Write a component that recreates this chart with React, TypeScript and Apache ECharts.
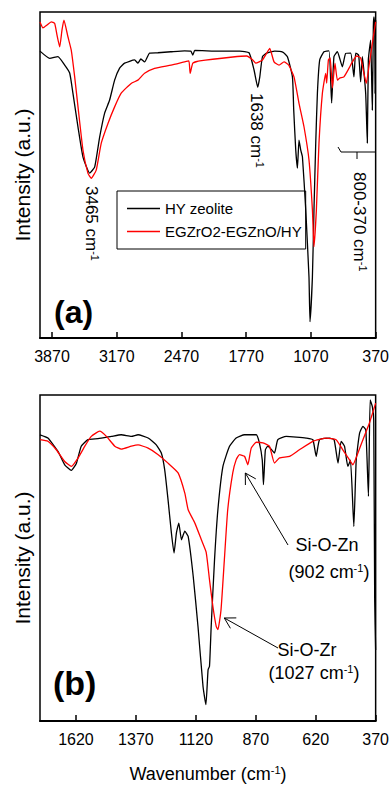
import React, { useEffect, useRef } from "react";
import * as echarts from "echarts";

const FONT = "'Liberation Sans', Arial, sans-serif";

const ticksA = [3870, 3170, 2470, 1770, 1070, 370];
const ticksB = [1620, 1370, 1120, 870, 620, 370];
const legendNames = ["HY zeolite", "EGZrO2-EGZnO/HY"];

// Panel (a): [wavenumber, relative transmittance]
const hyA: [number, number][] = [
  [4000, 88.0], [3895, 85.8], [3806, 86.3], [3733, 83.7], [3679, 81.3], [3644, 75.1],
  [3589, 64.7], [3535, 55.5], [3463, 50.6], [3409, 52.4], [3355, 61.6], [3301, 69.0],
  [3247, 73.0], [3193, 79.1], [3139, 82.8], [3085, 84.3], [2977, 85.3], [2941, 84.3],
  [2909, 85.6], [2869, 84.7], [2815, 87.4], [2725, 87.5], [2585, 87.8], [2437, 88.1],
  [2369, 88.0], [2347, 86.8], [2326, 88.2], [2055, 88.0], [1839, 88.0], [1739, 87.5],
  [1685, 82.2], [1645, 76.9], [1623, 80.1], [1594, 86.3], [1548, 87.4], [1461, 88.0],
  [1375, 87.7], [1324, 86.3], [1270, 80.1], [1256, 69.9], [1234, 57.6], [1216, 52.1],
  [1199, 60.7], [1180, 57.6], [1162, 55.6], [1126, 39.3], [1091, 18.7], [1080, 5.0],
  [1054, 18.7], [1037, 39.3], [1018, 59.8], [1000, 75.1], [975, 85.3], [929, 87.8],
  [875, 88.1], [846, 72.1], [821, 86.3], [784, 87.8], [730, 83.2], [694, 87.3],
  [640, 87.4], [605, 80.1], [586, 87.4], [554, 86.8], [532, 78.6], [514, 86.3],
  [478, 75.1], [460, 59.8], [449, 85.3], [424, 91.4], [406, 69.9], [395, 95.5],
  [389, 98.5], [380, 96.0], [376, 75.0], [372, 95.0], [370, 97.5],
];

const znA: [number, number][] = [
  [4000, 96.9], [3968, 95.1], [3924, 96.0], [3878, 97.0], [3841, 96.5], [3816, 92.9],
  [3787, 89.3], [3762, 94.5], [3741, 97.5], [3698, 92.4], [3662, 88.3], [3625, 80.1],
  [3589, 70.9], [3535, 57.6], [3481, 50.5], [3446, 49.0], [3392, 51.5], [3338, 59.7],
  [3265, 65.8], [3193, 70.9], [3122, 75.1], [3014, 78.1], [2941, 79.1], [2869, 81.2],
  [2761, 82.7], [2582, 83.7], [2437, 84.7], [2390, 85.0], [2376, 81.2], [2347, 84.3],
  [2272, 85.0], [1915, 86.2], [1764, 86.5], [1699, 85.3], [1667, 84.3], [1594, 85.3],
  [1540, 87.8], [1515, 88.8], [1469, 84.7], [1415, 83.7], [1361, 84.7], [1310, 83.7],
  [1253, 80.1], [1199, 72.0], [1145, 64.8], [1091, 54.6], [1054, 39.3], [1037, 28.0],
  [1011, 39.3], [983, 59.7], [946, 75.1], [910, 81.2], [900, 78.2], [881, 85.3],
  [862, 85.9], [838, 76.7], [810, 84.3], [784, 79.1], [759, 79.7], [713, 80.1],
  [659, 82.7], [622, 84.7], [575, 86.5], [532, 85.9], [497, 81.2], [471, 78.1],
  [443, 83.2], [406, 90.4], [370, 97.0],
];

// Panel (b)
const hyB: [number, number][] = [
  [1770, 87.8], [1737, 86.8], [1695, 82.7], [1667, 78.6], [1639, 76.9], [1618, 79.1],
  [1598, 84.3], [1570, 86.3], [1528, 86.6], [1472, 87.3], [1431, 87.8], [1389, 87.3],
  [1361, 87.8], [1319, 86.8], [1285, 84.7], [1264, 82.2], [1250, 77.1], [1236, 67.9],
  [1222, 57.7], [1211, 51.5], [1201, 57.7], [1191, 60.7], [1180, 55.6], [1166, 58.2],
  [1152, 56.6], [1131, 44.4], [1111, 29.0], [1090, 10.6], [1078, 5.0], [1069, 15.7],
  [1063, 16.8], [1056, 29.0], [1042, 49.5], [1028, 64.8], [1007, 78.1], [980, 84.2],
  [952, 86.8], [917, 87.8], [868, 87.8], [855, 85.3], [843, 80.1], [838, 72.5],
  [830, 83.2], [820, 84.3], [806, 83.4], [792, 82.2], [778, 86.3], [743, 87.3],
  [701, 87.1], [660, 86.8], [632, 86.3], [618, 81.2], [604, 86.3], [562, 86.8],
  [543, 86.2], [527, 79.1], [514, 85.8], [500, 84.3], [486, 78.1], [475, 80.0],
  [461, 59.7], [451, 80.1], [437, 88.3], [423, 90.4], [411, 89.2], [400, 68.9],
  [393, 98.5], [384, 96.5], [378, 92.3], [374, 37.1], [370, 21.8],
];

const znB: [number, number][] = [
  [1770, 86.3], [1737, 85.8], [1702, 83.2], [1667, 79.6], [1639, 78.1], [1611, 80.7],
  [1583, 84.3], [1556, 87.3], [1521, 88.9], [1493, 87.3], [1458, 84.3], [1431, 83.4],
  [1389, 84.3], [1361, 84.7], [1319, 83.7], [1277, 81.7], [1236, 79.1], [1194, 76.1],
  [1166, 69.9], [1152, 64.8], [1124, 60.7], [1097, 55.6], [1077, 51.8], [1063, 43.3],
  [1049, 35.2], [1035, 29.0], [1028, 28.0], [1015, 34.1], [1001, 49.5], [987, 64.8],
  [966, 76.1], [952, 80.1], [938, 81.7], [917, 81.2], [903, 78.6], [889, 83.7],
  [868, 85.5], [840, 85.3], [813, 84.3], [792, 79.1], [771, 80.7], [729, 81.2],
  [688, 83.2], [632, 85.8], [576, 86.8], [535, 86.3], [507, 83.2], [479, 80.1],
  [465, 78.6], [444, 82.2], [423, 86.3], [396, 91.4], [370, 97.5],
];

const supText = (main: string, tail = "") =>
  `{n|${main}}{s|-1}` + (tail ? `{n|${tail}}` : "");

const rich = (size: number) => ({
  n: { fontSize: size, fontFamily: FONT, fill: "#000", lineHeight: size + 2 },
  s: { fontSize: Math.round(size * 0.62), fontFamily: FONT, fill: "#000", verticalAlign: "top", lineHeight: size + 2 },
});

export default function App() {
  const ref = useRef<HTMLDivElement>(null);

  useEffect(() => {
    document.body.style.margin = "0";
    if (!ref.current) return;
    const chart = echarts.init(ref.current, undefined, { renderer: "svg" });

    const xAxisCommon = (ticks: number[]) => ({
      type: "value" as const,
      inverse: true,
      axisLine: { show: true, onZero: false, lineStyle: { color: "#000", width: 2 } },
      axisTick: { show: true, inside: true, length: 6, customValues: ticks, lineStyle: { color: "#000", width: 1.5 } },
      axisLabel: {
        show: true,
        customValues: ticks,
        fontSize: 16,
        color: "#000",
        margin: 10,
        fontFamily: FONT,
        formatter: (v: number) => String(v),
      },
      splitLine: { show: false },
    });

    const lineSeries = (name: string, data: [number, number][], color: string, idx: number) => ({
      type: "line",
      name,
      xAxisIndex: idx,
      yAxisIndex: idx,
      data,
      symbol: "none",
      showSymbol: false,
      smooth: 0.15,
      lineStyle: { color, width: 1.3 },
      itemStyle: { color },
      emphasis: { disabled: true },
    });

    const rotText = (x: number, y: number, main: string) => ({
      type: "text",
      x,
      y,
      rotation: -Math.PI / 2,
      style: { text: supText(main), rich: rich(17), align: "left", verticalAlign: "middle", fill: "#000" },
    });

    const centerText = (x: number, y: number, text: string, size = 18) => ({
      type: "text",
      x,
      y,
      style: { text, rich: rich(size), align: "center", verticalAlign: "middle", fill: "#000" },
    });

    const seg = (x1: number, y1: number, x2: number, y2: number) => ({
      type: "line",
      shape: { x1, y1, x2, y2 },
      style: { stroke: "#000", lineWidth: 1 },
    });

    chart.setOption({
      animation: false,
      textStyle: { fontFamily: FONT },
      grid: [
        { left: 40, top: 12, width: 336, height: 326, show: true, borderColor: "#000", borderWidth: 1.5, backgroundColor: "transparent" },
        { left: 40, top: 395, width: 336, height: 326, show: true, borderColor: "#000", borderWidth: 1.5, backgroundColor: "transparent" },
      ],
      xAxis: [
        { ...xAxisCommon(ticksA), gridIndex: 0, min: 370, max: 4000 },
        { ...xAxisCommon(ticksB), gridIndex: 1, min: 370, max: 1770 },
      ],
      yAxis: [
        { type: "value", gridIndex: 0, min: 0, max: 100, show: false },
        { type: "value", gridIndex: 1, min: 0, max: 100, show: false },
      ],
      legend: {
        data: legendNames.map((name) => ({ name, icon: "rect" })),
        orient: "vertical",
        left: 117,
        top: 191,
        padding: [10, 4, 10, 10],
        itemWidth: 33,
        itemHeight: 1.5,
        itemGap: 8,
        borderColor: "#000",
        borderWidth: 1,
        selectedMode: false,
        textStyle: { fontFamily: FONT, fontSize: 15, color: "#000" },
      },
      series: [
        lineSeries(legendNames[0], hyA, "#000000", 0),
        lineSeries(legendNames[1], znA, "#ff0000", 0),
        lineSeries(legendNames[0], hyB, "#000000", 1),
        lineSeries(legendNames[1], znB, "#ff0000", 1),
      ],
      graphic: [
        { type: "text", x: 22, y: 175, rotation: Math.PI / 2, style: { text: "Intensity (a.u.)", fontSize: 21, fontFamily: FONT, fill: "#000", align: "center", verticalAlign: "middle" } },
        { type: "text", x: 22, y: 558, rotation: Math.PI / 2, style: { text: "Intensity (a.u.)", fontSize: 21, fontFamily: FONT, fill: "#000", align: "center", verticalAlign: "middle" } },
        { type: "text", x: 54, y: 312, style: { text: "(a)", fontSize: 32, fontWeight: "bold", fontFamily: FONT, fill: "#000", align: "left", verticalAlign: "middle" } },
        { type: "text", x: 53, y: 683, style: { text: "(b)", fontSize: 34, fontWeight: "bold", fontFamily: FONT, fill: "#000", align: "left", verticalAlign: "middle" } },
        rotText(91, 186, "3465 cm"),
        rotText(256, 93, "1638 cm"),
        rotText(359, 172, "800-370 cm"),
        { type: "polyline", shape: { points: [[338, 147], [341, 152], [376, 152]] }, style: { stroke: "#000", lineWidth: 1, fill: null } },
        seg(357, 152, 357, 159),
        centerText(327, 545, "{n|Si-O-Zn}"),
        centerText(329, 572, supText("(902 cm", ")")),
        centerText(307, 650, "{n|Si-O-Zr}"),
        centerText(314, 673, supText("(1027 cm", ")")),
        seg(288, 545, 245.3, 473),
        seg(245.3, 473, 245.4, 485),
        seg(245.3, 473, 255.8, 478.9),
        seg(278, 648, 224.3, 618),
        seg(224.3, 618, 230.4, 628.3),
        seg(224.3, 618, 236.3, 617.9),
        centerText(208, 774, supText("Wavenumber (cm", ")"), 18),
      ],
    });

    return () => chart.dispose();
  }, []);

  return <div ref={ref} style={{ position: "absolute", left: 0, top: 0, width: 392, height: 785 }} />;
}
